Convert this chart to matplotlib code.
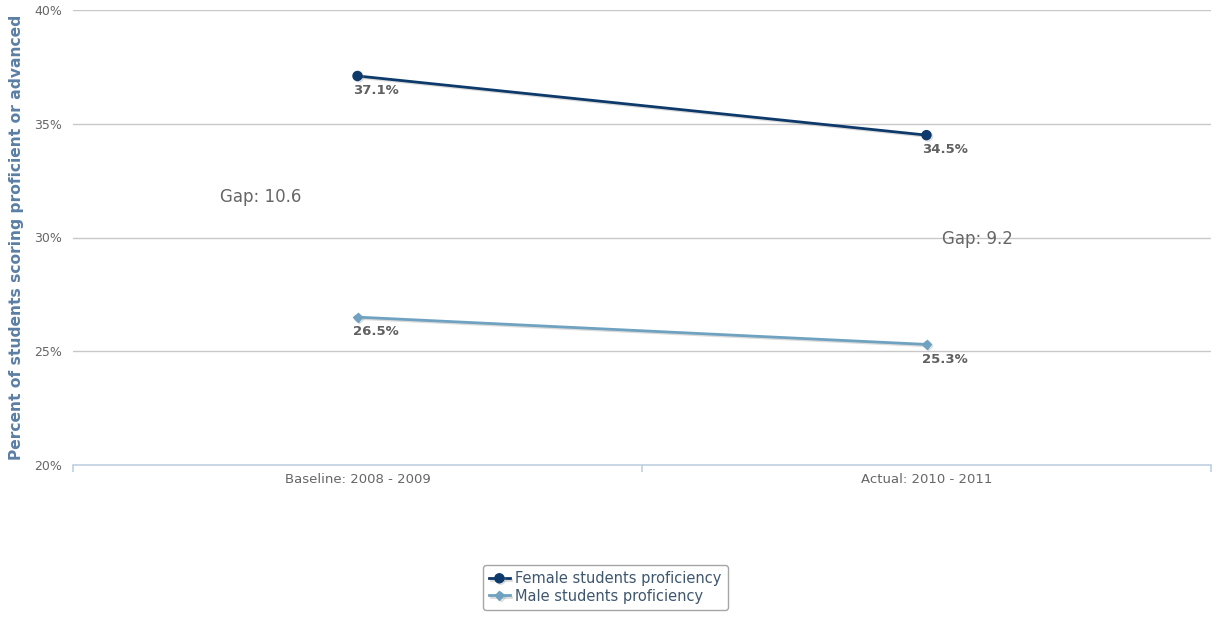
import matplotlib
matplotlib.use("Agg")
import matplotlib.pyplot as plt
import matplotlib.patheffects as pe
from matplotlib.ticker import FixedLocator

categories = ["Baseline: 2008 - 2009", "Actual: 2010 - 2011"]
female = [37.1, 34.5]
male = [26.5, 25.3]
gap_labels = ["Gap: 10.6", "Gap: 9.2"]
y_ticks = [20, 25, 30, 35, 40]

female_color = "#0d3a6b"
male_color = "#6ea2c0"
label_gray = "#666666"

plt.rcParams["font.family"] = ["DejaVu Sans"]

fig = plt.figure(figsize=(12.16, 6.17), dpi=100)
ax = fig.add_axes([73 / 1216, 1 - 465 / 617, 1138 / 1216, 455 / 617])

x = list(range(len(categories)))
ax.set_xlim(-0.5, len(categories) - 0.5)
ax.set_ylim(20, 40)

# grid
for yv in y_ticks[1:]:
    ax.axhline(yv, color="#c8c8c8", lw=1, zorder=0)
for s in ["top", "right", "left"]:
    ax.spines[s].set_visible(False)
ax.spines["bottom"].set_color("#c0d0e0")
ax.spines["bottom"].set_linewidth(1.2)

shadow = [pe.SimpleLineShadow(offset=(1, -1), shadow_color="#999999", alpha=0.35), pe.Normal()]
ax.plot(x, female, color=female_color, lw=2, marker="o", ms=6.5,
        label="Female students proficiency", zorder=3, path_effects=shadow)
ax.plot(x, male, color=male_color, lw=2, marker="D", ms=4.5,
        label="Male students proficiency", zorder=3, path_effects=shadow)

for xi, v in zip(x, female):
    ax.annotate(f"{v}%", (xi, v), xytext=(-3.5, -6), textcoords="offset points",
                ha="left", va="top", fontsize=9.5, fontweight="bold", color="#606060")
for xi, v in zip(x, male):
    ax.annotate(f"{v}%", (xi, v), xytext=(-3.5, -6), textcoords="offset points",
                ha="left", va="top", fontsize=9.5, fontweight="bold", color="#606060")

# gap annotations
ax.text(-0.171, 31.8, gap_labels[0], ha="center", va="center", fontsize=12, color=label_gray)
ax.text(1.09, 29.93, gap_labels[1], ha="center", va="center", fontsize=12, color=label_gray)

ax.set_yticks(y_ticks)
ax.set_yticklabels([f"{t}%" for t in y_ticks])
ax.tick_params(axis="y", length=0, labelsize=9, labelcolor=label_gray, pad=8)

ax.set_xticks(x)
ax.set_xticklabels(categories)
ax.tick_params(axis="x", length=0, labelsize=9.5, labelcolor=label_gray, pad=6)
ax.xaxis.set_minor_locator(FixedLocator([-0.5, 0.5, 1.5]))
ax.tick_params(axis="x", which="minor", length=5, width=1.2, color="#c0d0e0")

ax.set_ylabel("Percent of students scoring proficient or advanced", fontsize=11.2,
              fontweight="bold", color="#5b7ea5")
ax.yaxis.set_label_coords(-0.043, 0.5)

leg = ax.legend(loc="center", bbox_to_anchor=(605.5 / 1216, 1 - 587.5 / 617),
                bbox_transform=fig.transFigure, fontsize=10.5, frameon=True,
                handlelength=1.4, handletextpad=0.4, borderpad=0.45, labelspacing=0.15,
                fancybox=True)
leg.get_frame().set_edgecolor("#909090")
leg.get_frame().set_linewidth(1)
for t in leg.get_texts():
    t.set_color("#3e576f")

fig.savefig("out.png", dpi=100)
